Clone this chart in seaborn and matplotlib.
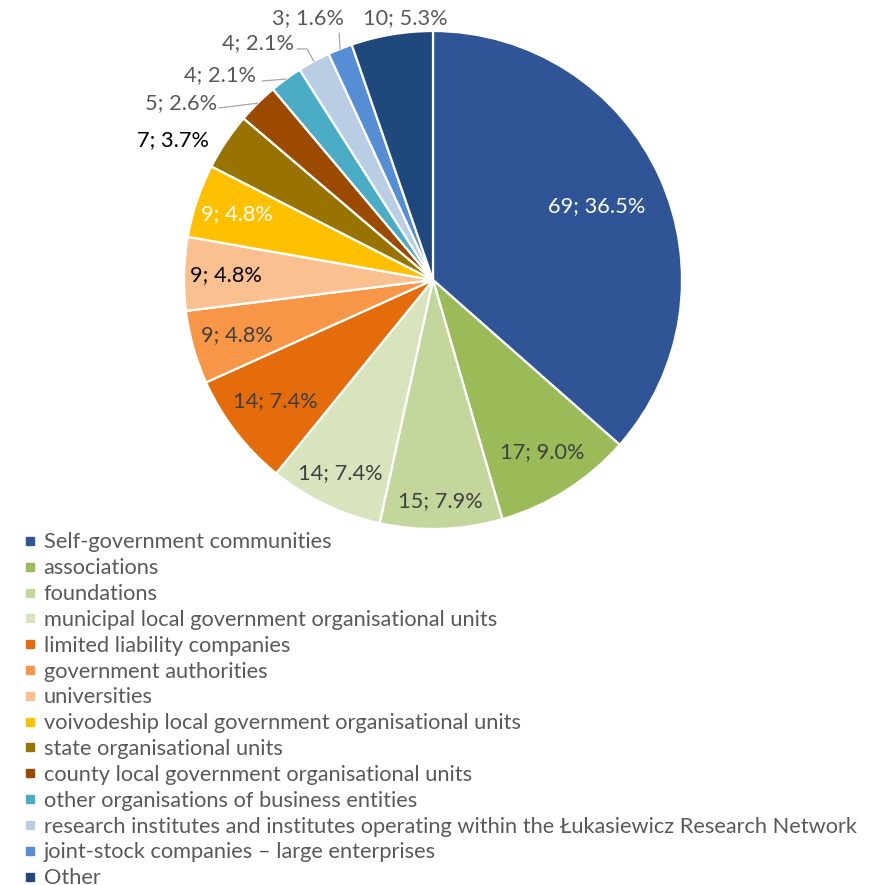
import matplotlib
matplotlib.use("Agg")
import matplotlib.pyplot as plt
from matplotlib.lines import Line2D
import numpy as np
import seaborn as sns

# Organisation types and number of beneficiaries
categories = [
    "Self-government communities",
    "associations",
    "foundations",
    "municipal local government organisational units",
    "limited liability companies",
    "government authorities",
    "universities",
    "voivodeship local government organisational units",
    "state organisational units",
    "county local government organisational units",
    "other organisations of business entities",
    "research institutes and institutes operating within the Łukasiewicz Research Network",
    "joint-stock companies – large enterprises",
    "Other",
]
counts = [69, 17, 15, 14, 14, 9, 9, 9, 7, 5, 4, 4, 3, 10]

colors = [
    "#2F5597", "#9BBB59", "#C3D69B", "#D7E4BD", "#E46C0A", "#F79646",
    "#FAC090", "#FFC000", "#997300", "#9C4A00", "#4BACC6", "#B9CDE5",
    "#558ED5", "#1F497D",
]

# Label styling: text colour and placement (inside labels: radial fraction,
# outside labels: explicit position in pie units)
label_colors = [
    "white", "#404040", "#404040", "#404040", "#404040", "#404040",
    "black", "white", "black", "#595959", "#595959", "#595959",
    "#595959", "#595959",
]
inside_radius = {0: 0.72, 1: 0.82, 2: 0.89, 3: 0.86, 4: 0.80, 5: 0.82,
                 6: 0.83, 7: 0.83}
outside_pos = {
    8: (-1.044, 0.562),
    9: (-1.012, 0.711),
    10: (-0.855, 0.823),
    11: (-0.703, 0.952),
    12: (-0.502, 1.052),
    13: (-0.112, 1.052),
}
# leader line waypoints (before reaching the slice edge)
leaders = {
    9: [(-0.859, 0.691)],
    10: [(-0.687, 0.799)],
    11: [(-0.546, 0.928), (-0.506, 0.928)],
    12: [(-0.377, 0.992)],
}

sns.set_theme(style="white")
plt.rcParams["font.family"] = ["Lato", "DejaVu Sans"]

W, H = 876, 885
fig = plt.figure(figsize=(W / 100, H / 100), dpi=100)
cx, cy, R = 433, 280, 249
ax = fig.add_axes([(cx - R) / W, (H - cy - R) / H, 2 * R / W, 2 * R / H])

wedges, _ = ax.pie(
    counts, colors=colors, startangle=90, counterclock=False, radius=1.0,
    wedgeprops=dict(edgecolor="white", linewidth=1.6),
)
ax.set_xlim(-1, 1)
ax.set_ylim(-1, 1)
ax.set_aspect("equal")
ax.axis("off")

total = sum(counts)
fs = 15.7
for i, (w, n) in enumerate(zip(wedges, counts)):
    pct = 100 * n / total
    text = f"{n}; {pct:.1f}%"
    mid = np.deg2rad((w.theta1 + w.theta2) / 2)
    if i in inside_radius:
        r = inside_radius[i]
        x, y = r * np.cos(mid), r * np.sin(mid)
    else:
        x, y = outside_pos[i]
    ax.text(x, y, text, ha="center", va="center", fontsize=fs,
            color=label_colors[i], clip_on=False)
    if i in leaders:
        pts = leaders[i] + [(np.cos(mid), np.sin(mid))]
        xs, ys = zip(*pts)
        ax.plot(xs, ys, color="#A6A6A6", lw=0.9, clip_on=False)

handles = [Line2D([0], [0], marker="s", linestyle="none", markersize=6,
                  markerfacecolor=c, markeredgecolor=c) for c in colors]
fig.legend(
    handles, categories, loc="upper left", bbox_to_anchor=(25 / W, 1 - 532.5 / H),
    frameon=False, fontsize=fs, labelcolor="#595959", handlelength=0.5,
    handletextpad=0.35, labelspacing=0.267, borderpad=0, borderaxespad=0,
)

fig.savefig("out.png", dpi=100, facecolor="white")
